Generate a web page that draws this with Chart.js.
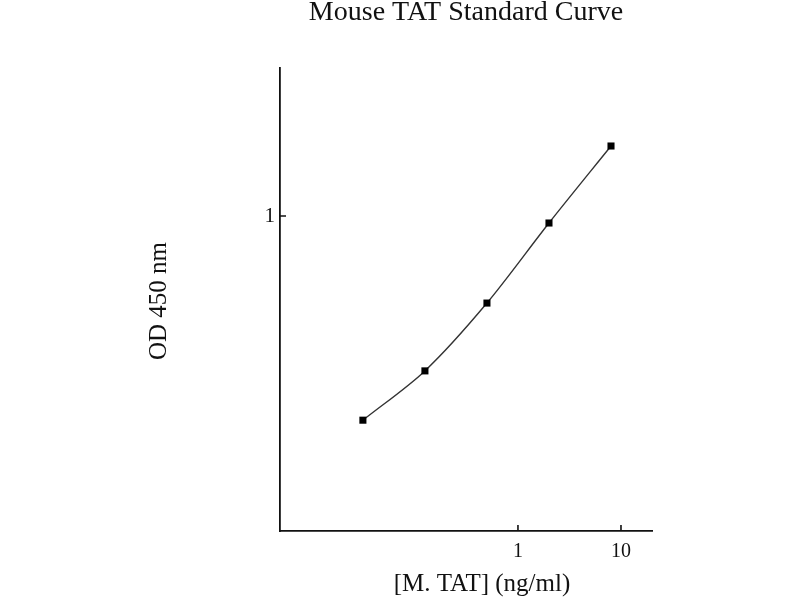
<!DOCTYPE html>
<html>
<head>
<meta charset="utf-8">
<script src="https://cdn.jsdelivr.net/npm/chart.js@4"></script>
<style>
  html, body { margin: 0; padding: 0; background: #fff; }
  #wrap { width: 800px; height: 600px; }
</style>
</head>
<body>
<div id="wrap"><canvas id="tatChart" width="800" height="600"></canvas></div>
<script>
// standard curve values
const concentrations = [0.03125, 0.125, 0.5, 2, 8];   // ng/ml
const odValues = [0.261, 0.361, 0.564, 0.955, 1.585]; // OD 450 nm
const xTickValues = [1, 10];
const yTickValues = [1];

const serif = '"Liberation Serif", "DejaVu Serif", serif';

// ticks point into the plot, so draw them here from the scales
const inwardTicks = {
  id: 'inwardTicks',
  afterDraw(chart) {
    const ctx = chart.ctx;
    const x = chart.scales.x;
    const y = chart.scales.y;
    const area = chart.chartArea;
    ctx.save();
    ctx.strokeStyle = '#111';
    ctx.lineWidth = 1.6;
    ctx.beginPath();
    xTickValues.forEach(function(v) {
      const px = x.getPixelForValue(v);
      ctx.moveTo(px, area.bottom);
      ctx.lineTo(px, area.bottom - 6);
    });
    yTickValues.forEach(function(v) {
      const py = y.getPixelForValue(v);
      ctx.moveTo(area.left, py);
      ctx.lineTo(area.left + 6, py);
    });
    ctx.stroke();

    // titles
    ctx.fillStyle = '#111';
    ctx.textAlign = 'center';
    ctx.textBaseline = 'alphabetic';
    ctx.font = '28px ' + serif;
    ctx.fillText('Mouse TAT Standard Curve', (area.left + area.right) / 2, 20);
    ctx.font = '25px ' + serif;
    ctx.fillText('[M. TAT] (ng/ml)', 482, 591);
    ctx.font = '25px ' + serif;
    ctx.translate(166, 301);
    ctx.rotate(-Math.PI / 2);
    ctx.fillText('OD 450 nm', 0, 0);
    ctx.restore();
  }
};

new Chart(document.getElementById('tatChart'), {
  type: 'line',
  data: {
    datasets: [{
      label: 'Mouse TAT',
      data: concentrations.map(function(c, i) { return { x: c, y: odValues[i] }; }),
      borderColor: '#333',
      borderWidth: 1.4,
      tension: 0.3,
      pointStyle: 'rect',
      pointRadius: 5,
      pointBackgroundColor: '#000',
      pointBorderColor: '#000',
      pointBorderWidth: 0
    }]
  },
  options: {
    responsive: false,
    animation: false,
    layout: { padding: { top: 68, right: 148, left: 0, bottom: 0 } },
    plugins: {
      legend: { display: false },
      title: { display: false },
      tooltip: { enabled: false }
    },
    scales: {
      x: {
        type: 'logarithmic',
        min: 0.0049,
        max: 20,
        afterBuildTicks: function(scale) {
          scale.ticks = xTickValues.map(function(v) { return { value: v }; });
        },
        afterFit: function(scale) { scale.height = 69; },
        grid: { display: false, drawTicks: false },
        border: { display: true, color: '#111', width: 1.8 },
        ticks: {
          padding: 9,
          maxRotation: 0,
          autoSkip: false,
          color: '#111',
          font: { family: serif, size: 20 },
          callback: function(v) { return String(v); }
        }
      },
      y: {
        type: 'logarithmic',
        min: 0.1259,
        max: 2.648,
        afterBuildTicks: function(scale) {
          scale.ticks = yTickValues.map(function(v) { return { value: v }; });
        },
        afterFit: function(scale) { scale.width = 280; },
        grid: { display: false, drawTicks: false },
        border: { display: true, color: '#111', width: 1.8 },
        ticks: {
          padding: 5,
          autoSkip: false,
          color: '#111',
          font: { family: serif, size: 21 },
          callback: function(v) { return String(v); }
        }
      }
    }
  },
  plugins: [inwardTicks]
});
</script>
</body>
</html>
